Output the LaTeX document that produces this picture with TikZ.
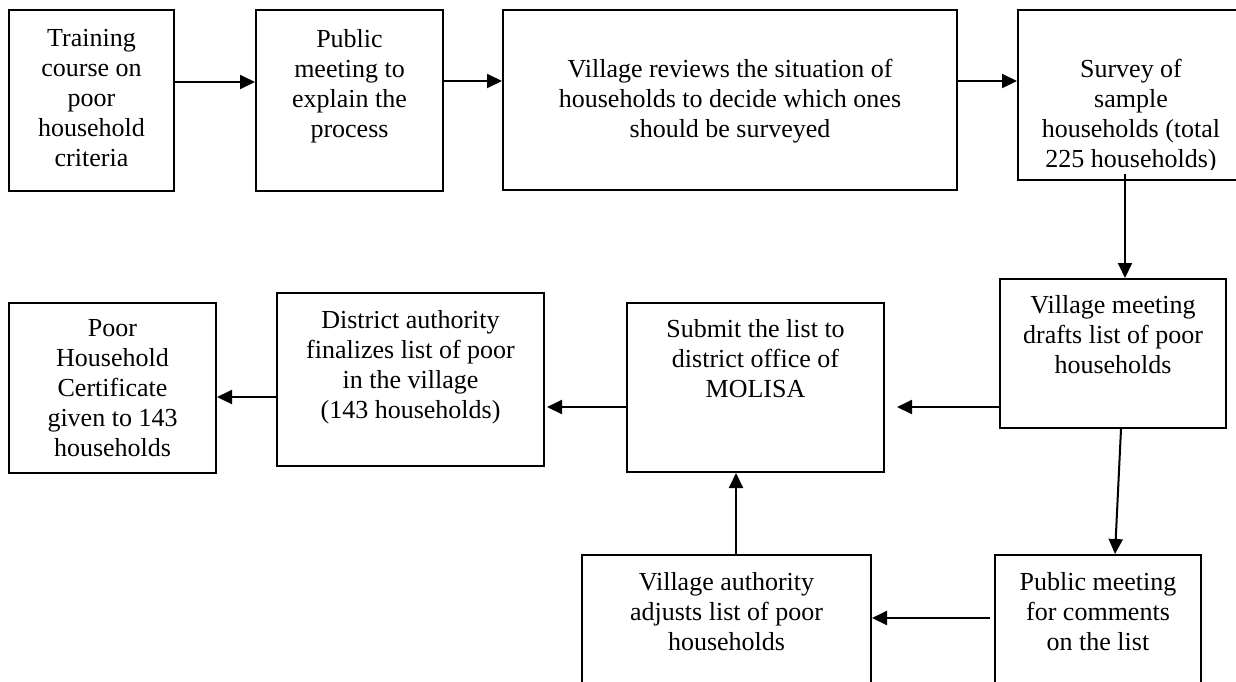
\documentclass[tikz,border=0pt]{standalone}
\usepackage{fontspec}
\setmainfont{Liberation Serif}
\usetikzlibrary{arrows.meta, positioning, calc}

\begin{document}
\begin{tikzpicture}[
    x=0.5pt, y=-0.5pt,
    stagebox/.style={
        rectangle, draw=black, line width=1pt,
        anchor=north west, inner sep=0pt
    },
    words/.style={
        font=\fontsize{13}{15}\selectfont,
        align=center, inner sep=0pt, anchor=north
    },
    arr/.style={-{Triangle[length=7.5pt, width=7pt]}, line width=1pt}
]
\useasboundingbox (0,0) rectangle (1236,681);

% boxes
\node[stagebox, minimum width=82.5pt,  minimum height=90.5pt] (train)    at (8,9)     {};
\node[stagebox, minimum width=93.5pt,  minimum height=90.5pt] (public)   at (255,9)   {};
\node[stagebox, minimum width=227pt,   minimum height=90pt]   (review)   at (502,9)   {};
\node[stagebox, minimum width=113pt,   minimum height=85pt]   (survey)   at (1017,9)  {};
\node[stagebox, minimum width=113pt,   minimum height=74.5pt] (drafts)   at (999,278) {};
\node[stagebox, minimum width=128.5pt, minimum height=84.5pt] (submit)   at (626,302) {};
\node[stagebox, minimum width=133.5pt, minimum height=86.5pt] (district) at (276,292) {};
\node[stagebox, minimum width=103.5pt, minimum height=85pt]   (cert)     at (8,302)   {};
\node[stagebox, minimum width=144.5pt, minimum height=83pt]   (adjust)   at (581,554) {};
\node[stagebox, minimum width=103pt,   minimum height=83pt]   (comments) at (994,554) {};

% texts
\node[words, below=10pt of train.north]    (traintxt)    {Training\\course on\\poor\\household\\criteria};
\node[words, below=10pt of public.north]   (publictxt)   {Public\\meeting to\\explain the\\process};
\node[words, below=25pt of review.north]   (reviewtxt)   {Village reviews the situation of\\households to decide which ones\\should be surveyed};
\begin{scope}
  \clip (survey.north west) rectangle ($(survey.south east)+(0,-12)$);
  \node[words, below=25pt of survey.north] (surveytxt) {Survey of\\sample\\households (total\\225 households)};
\end{scope}
\node[words, below=8.5pt of drafts.north]  (draftstxt)   {Village meeting\\drafts list of poor\\households};
\node[words, below=8.5pt of submit.north]  (submittxt)   {Submit the list to\\district office of\\MOLISA};
\node[words, below=9pt of district.north]  (districttxt) {District authority\\finalizes list of poor\\in the village\\(143 households)};
\begin{scope}
  \clip (cert.north west) rectangle ($(cert.south east)+(0,-15)$);
  \node[words, below=8.5pt of cert.north] (certtxt) {Poor\\Household\\Certificate\\given to 143\\households};
\end{scope}
\node[words, below=9pt of adjust.north]    (adjusttxt)   {Village authority\\adjusts list of poor\\households};
\node[words, below=9pt of comments.north]  (commentstxt) {Public meeting\\for comments\\on the list};

% arrows
\draw[arr] ($(train.north east)+(0,73)$) coordinate (t1) -- (t1 -| public.west);
\draw[arr] ($(public.north east)+(0,72)$) coordinate (t2) -- (t2 -| review.west);
\draw[arr] ($(review.north east)+(0,72)$) coordinate (t3) -- (t3 -| survey.west);
\draw[arr] ($(survey.south west)+(108,-7)$) coordinate (t4) -- (t4 |- drafts.north);
\draw[arr] ($(drafts.north west)+(0,129)$) coordinate (t5) -- ($(t5 -| submit.east)+(12,0)$);
\draw[arr] ($(submit.north west)+(0,105)$) coordinate (t6) -- ($(t6 -| district.east)+(2,0)$);
\draw[arr] ($(district.north west)+(0,105)$) coordinate (t7) -- (t7 -| cert.east);
\draw[arr] ($(drafts.south west)+(122,0)$) -- ($(comments.north west)+(121,0)$);
\draw[arr] ($(comments.north west)+(-4,64)$) coordinate (t9) -- (t9 -| adjust.east);
\draw[arr] ($(adjust.north west)+(155,0)$) coordinate (t10) -- (t10 |- submit.south);
\end{tikzpicture}
\end{document}
